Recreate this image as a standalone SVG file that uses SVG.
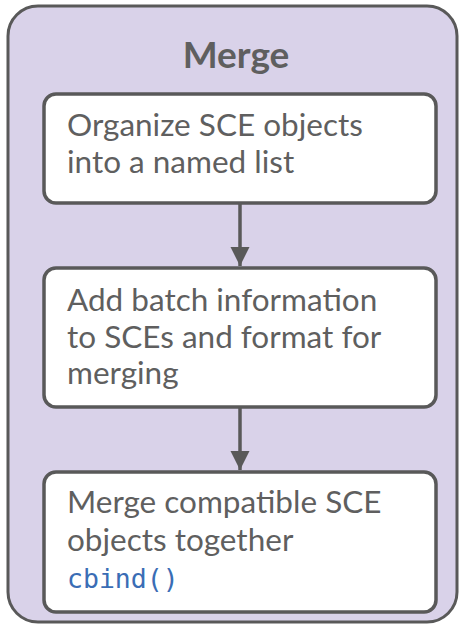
<svg xmlns="http://www.w3.org/2000/svg" width="460" height="626" viewBox="0 0 460 626">
<defs>
<marker id="arr" viewBox="0 0 10 10" refX="10" refY="5" markerWidth="5.5" markerHeight="5.5" markerUnits="strokeWidth" orient="auto">
<path d="M0,0 L10,5 L0,10 z" fill="#595959"/>
</marker>
</defs>
<style>
.frame{fill:#d9d2e9;stroke:#595959;stroke-width:3}
.box{fill:#ffffff;stroke:#595959;stroke-width:3.5}
.t{font-family:Lato,"Liberation Sans",sans-serif;font-size:31.5px;fill:#5f5f5f}
.title{font-family:Lato,"Liberation Sans",sans-serif;font-size:37px;font-weight:bold;fill:#5f5f5f}
.code{font-family:"DejaVu Sans Mono","Liberation Mono",monospace;font-size:26.5px;fill:#3a6db5}
.edge{stroke:#595959;stroke-width:3.5;fill:none}
</style>
<g id="merge">
<rect class="frame" x="8" y="6" width="449" height="616" rx="30"/>
<text class="title" x="236" y="68" text-anchor="middle">Merge</text>
</g>
<g id="step1">
<rect class="box" x="44" y="94" width="392" height="109" rx="12"/>
<text class="t" x="67" y="136">Organize SCE objects</text>
<text class="t" x="67" y="173">into a named list</text>
</g>
<g id="step2">
<rect class="box" x="44" y="268" width="392" height="139" rx="12"/>
<text class="t" x="67" y="311">Add batch information</text>
<text class="t" x="67" y="348">to SCEs and format for</text>
<text class="t" x="67" y="384">merging</text>
</g>
<g id="step3">
<rect class="box" x="44" y="472" width="392" height="140" rx="12"/>
<text class="t" x="67" y="513">Merge compatible SCE</text>
<text class="t" x="67" y="551">objects together</text>
<text class="code" x="67" y="588">cbind()</text>
</g>
<g id="connectors">
<line class="edge" x1="240" y1="203" x2="240" y2="266" marker-end="url(#arr)"/>
<line class="edge" x1="240" y1="407" x2="240" y2="470" marker-end="url(#arr)"/>
</g>
</svg>
